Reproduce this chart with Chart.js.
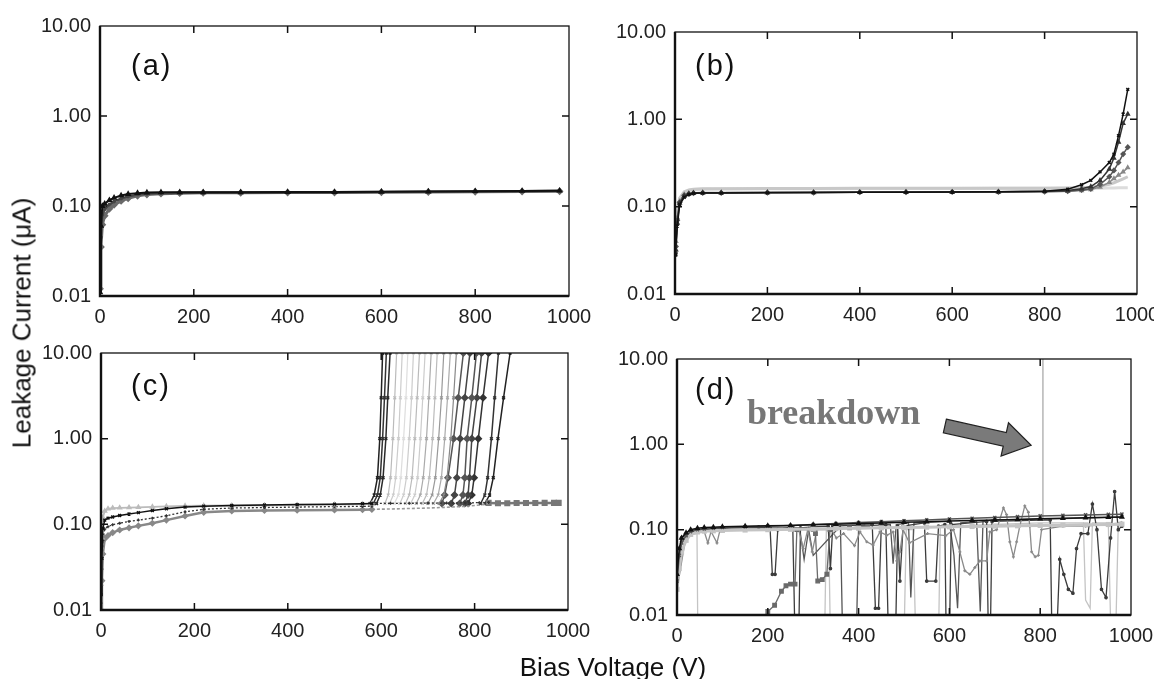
<!DOCTYPE html>
<html>
<head>
<meta charset="utf-8">
<script src="https://cdn.jsdelivr.net/npm/chart.js@4.4.0/dist/chart.umd.min.js"></script>
<style>
  html, body { margin: 0; padding: 0; background: #fff; }
  body { width: 1154px; height: 679px; position: relative; overflow: hidden; font-family: 'Liberation Sans', Arial, sans-serif; }
  .panel { position: absolute; }
  .ytitle { position: absolute; left: 22px; top: 323px; transform: translate(-50%, -50%) rotate(-90deg); font-size: 26px; white-space: nowrap; color: #111; }
  .xtitle { position: absolute; left: 613px; top: 667px; transform: translate(-50%, -50%); font-size: 26px; white-space: nowrap; color: #111; }
</style>
</head>
<body>
<div class="panel" id="panelA"></div>
<div class="panel" id="panelB"></div>
<div class="panel" id="panelC"></div>
<div class="panel" id="panelD"></div>
<div class="ytitle">Leakage Current (μA)</div>
<div class="xtitle">Bias Voltage (V)</div>
<script>
// shared axis ticks
const yTickValues = [0.01, 0.1, 1, 10];
const xTickStep = 200;

// (a) all curves flat
const aVolts = [0, 2, 5, 10, 20, 30, 45, 60, 80, 100, 130, 170, 220, 300, 400, 500, 600, 700, 800, 900, 980];
const aBlack = [0.011, 0.06, 0.1, 0.106, 0.116, 0.123, 0.131, 0.136, 0.139, 0.141, 0.142, 0.142, 0.142, 0.142, 0.143, 0.143, 0.144, 0.145, 0.146, 0.147, 0.148];
const aDark = [0.013, 0.045, 0.08, 0.092, 0.104, 0.112, 0.121, 0.128, 0.134, 0.137, 0.139, 0.14, 0.14, 0.141, 0.141, 0.142, 0.143, 0.144, 0.145, 0.146, 0.147];
const aGray = [0.012, 0.035, 0.062, 0.078, 0.093, 0.103, 0.114, 0.122, 0.13, 0.134, 0.137, 0.139, 0.14, 0.14, 0.141, 0.141, 0.142, 0.143, 0.144, 0.145, 0.146];

// (b) rise near 1000 V
const bVolts = [0, 2, 5, 10, 20, 30, 40, 60, 100, 200, 300, 400, 500, 600, 700, 800, 850, 880, 900, 920, 940, 950, 960, 970, 980];
const bBlack = [0.028, 0.028, 0.06, 0.105, 0.128, 0.138, 0.142, 0.143, 0.143, 0.144, 0.145, 0.146, 0.146, 0.147, 0.148, 0.15, 0.158, 0.178, 0.2, 0.25, 0.32, 0.4, 0.65, 1.15, 2.2];
const bDark = [0.03, 0.032, 0.065, 0.11, 0.132, 0.14, 0.143, 0.144, 0.144, 0.145, 0.145, 0.146, 0.147, 0.147, 0.148, 0.15, 0.153, 0.16, 0.17, 0.2, 0.27, 0.36, 0.55, 0.9, 1.15];
const bMid = [0.03, 0.035, 0.07, 0.112, 0.135, 0.14, 0.143, 0.144, 0.144, 0.145, 0.145, 0.146, 0.146, 0.147, 0.147, 0.148, 0.15, 0.155, 0.16, 0.18, 0.22, 0.26, 0.32, 0.4, 0.48];
const bGray = [0.032, 0.04, 0.075, 0.115, 0.138, 0.142, 0.144, 0.145, 0.145, 0.145, 0.146, 0.146, 0.147, 0.147, 0.148, 0.149, 0.15, 0.153, 0.157, 0.168, 0.19, 0.21, 0.23, 0.25, 0.28];
const bLight = [0.035, 0.05, 0.09, 0.125, 0.148, 0.155, 0.158, 0.16, 0.16, 0.161, 0.161, 0.162, 0.162, 0.162, 0.163, 0.163, 0.164, 0.165, 0.167, 0.172, 0.18, 0.188, 0.197, 0.208, 0.22];
const bPale = [0.033, 0.045, 0.085, 0.12, 0.145, 0.153, 0.157, 0.158, 0.159, 0.16, 0.16, 0.161, 0.161, 0.161, 0.162, 0.162, 0.162, 0.163, 0.163, 0.163, 0.164, 0.164, 0.165, 0.165, 0.165];

// (c) baselines, then breakdown curves
const cBaseVolts = [0, 2, 4, 8, 15, 25, 40, 60, 80, 110, 140, 180, 220, 280, 350, 420, 500, 560, 580];
const cBlack = [0.015, 0.04, 0.09, 0.112, 0.118, 0.122, 0.127, 0.132, 0.137, 0.145, 0.152, 0.159, 0.163, 0.166, 0.168, 0.17, 0.172, 0.174, 0.175];
const cLight = [0.02, 0.07, 0.12, 0.143, 0.152, 0.155, 0.156, 0.157, 0.158, 0.16, 0.162, 0.164, 0.165, 0.166, 0.167, 0.168, 0.17, 0.172, 0.174];
const cDotted = [0.012, 0.03, 0.065, 0.088, 0.094, 0.099, 0.103, 0.108, 0.112, 0.118, 0.126, 0.14, 0.15, 0.155, 0.157, 0.159, 0.161, 0.162, 0.163];
const cLow = [0.01, 0.022, 0.045, 0.068, 0.074, 0.08, 0.086, 0.091, 0.096, 0.103, 0.112, 0.125, 0.138, 0.143, 0.145, 0.146, 0.147, 0.148, 0.149];
const cLateVolts = [580, 620, 660, 700, 740, 780, 810, 830];
const cLateTop = [0.175, 0.176, 0.176, 0.177, 0.177, 0.178, 0.179, 0.18];
const cLateLow = [0.15, 0.151, 0.153, 0.155, 0.158, 0.162, 0.168, 0.175];
const cTailVolts = [830, 850, 870, 890, 910, 930, 950, 970, 980];
const cTail = [0.178, 0.176, 0.176, 0.177, 0.177, 0.177, 0.178, 0.178, 0.178];
// current levels passed by every breakdown curve, and the voltage at each level
const cRiseLevels = [0.175, 0.22, 0.35, 1, 3, 10, 12];
const cRiseVolts = [
  [576, 585, 592, 597, 600, 603, 604],
  [583, 592, 598, 603, 607, 611, 612],
  [590, 598, 604, 610, 614, 619, 620],
  [608, 615, 620, 625, 629, 633, 634],
  [618, 626, 631, 637, 641, 645, 646],
  [628, 637, 642, 648, 653, 657, 658],
  [640, 648, 654, 660, 665, 669, 670],
  [652, 660, 666, 672, 677, 682, 683],
  [663, 672, 678, 684, 689, 694, 695],
  [675, 684, 690, 697, 702, 707, 708],
  [688, 697, 703, 710, 715, 720, 721],
  [700, 709, 716, 723, 729, 734, 735],
  [712, 722, 729, 736, 742, 748, 749],
  [724, 734, 741, 749, 755, 761, 762],
  [730, 736, 743, 755, 765, 776, 778],
  [750, 757, 762, 769, 779, 790, 792],
  [768, 775, 779, 784, 794, 804, 806],
  [779, 786, 789, 794, 805, 815, 817],
  [786, 794, 799, 808, 818, 830, 832],
  [813, 822, 828, 836, 843, 851, 853],
  [822, 832, 840, 850, 862, 876, 878]
];
const cRiseColors = ['#222', '#333', '#2a2a2a', '#bbb', '#ccc', '#ddd', '#ccc', '#bbb', '#ccc', '#aaa', '#bbb', '#999', '#aaa', '#888',
  '#555', '#444', '#555', '#444', '#333', '#333', '#222'];

// (d) noisy curves
const dBandVolts = [0, 5, 10, 20, 30, 45, 60, 80, 100, 150, 200, 250, 300, 350, 400, 450, 500, 550, 600, 650, 700, 750, 800, 850, 900, 950, 980];
const dBlack = [0.03, 0.06, 0.08, 0.092, 0.1, 0.104, 0.106, 0.107, 0.108, 0.11, 0.111, 0.112, 0.114, 0.116, 0.118, 0.12, 0.122, 0.124, 0.126, 0.128, 0.13, 0.132, 0.134, 0.136, 0.138, 0.14, 0.141];
const dUpper = [0.025, 0.05, 0.07, 0.085, 0.095, 0.1, 0.102, 0.104, 0.106, 0.108, 0.11, 0.112, 0.115, 0.118, 0.121, 0.124, 0.127, 0.13, 0.133, 0.136, 0.139, 0.142, 0.145, 0.147, 0.149, 0.151, 0.152];
const dLower = [0.02, 0.035, 0.055, 0.075, 0.088, 0.094, 0.096, 0.097, 0.098, 0.099, 0.1, 0.101, 0.102, 0.103, 0.104, 0.105, 0.106, 0.107, 0.108, 0.109, 0.11, 0.111, 0.112, 0.113, 0.114, 0.115, 0.116];
const dNoise1Volts = [0, 10, 30, 100, 180, 205, 210, 216, 222, 255, 260, 268, 272, 300, 333, 338, 343, 430, 437, 444, 450, 460, 465, 482, 486, 491, 498, 545, 550, 570, 576, 590, 593, 600, 604, 682, 686, 690, 694, 822, 826, 836, 843, 852, 862, 872, 880, 890, 905, 915, 925, 935, 945, 955, 964, 972, 980];
const dNoise1 = [0.03, 0.08, 0.097, 0.105, 0.107, 0.105, 0.03, 0.03, 0.1, 0.108, 0.005, 0.005, 0.105, 0.108, 0.11, 0.035, 0.11, 0.115, 0.012, 0.012, 0.11, 0.115, 0.008, 0.008, 0.11, 0.025, 0.11, 0.12, 0.025, 0.025, 0.11, 0.115, 0.005, 0.005, 0.115, 0.125, 0.005, 0.005, 0.125, 0.13, 0.005, 0.005, 0.045, 0.03, 0.02, 0.018, 0.06, 0.09, 0.09, 0.2, 0.1, 0.02, 0.016, 0.08, 0.28, 0.1, 0.11];
const dNoise2Volts = [0, 20, 60, 68, 75, 88, 95, 200, 268, 278, 288, 298, 308, 340, 351, 367, 391, 403, 418, 432, 447, 462, 476, 484, 491, 498, 512, 552, 592, 609, 623, 634, 645, 656, 667, 682, 689, 704, 719, 726, 733, 741, 748, 755, 766, 774, 777, 781, 789, 796, 803, 850, 900, 980];
const dNoise2 = [0.02, 0.085, 0.095, 0.07, 0.095, 0.07, 0.1, 0.1, 0.1, 0.06, 0.1, 0.055, 0.1, 0.1, 0.08, 0.09, 0.065, 0.094, 0.072, 0.066, 0.094, 0.086, 0.094, 0.043, 0.055, 0.1, 0.07, 0.09, 0.085, 0.1, 0.055, 0.033, 0.03, 0.036, 0.043, 0.043, 0.094, 0.1, 0.18, 0.15, 0.072, 0.048, 0.072, 0.11, 0.19, 0.16, 0.11, 0.055, 0.048, 0.05, 0.1, 0.11, 0.11, 0.12];
const dNoise3Volts = [196, 200, 215, 230, 240, 250, 260, 264, 300, 305, 310, 320, 330, 337, 380, 420];
const dNoise3 = [0.008, 0.011, 0.013, 0.019, 0.022, 0.023, 0.023, 0.1, 0.1, 0.09, 0.025, 0.026, 0.03, 0.1, 0.105, 0.11];
const dNoise4Volts = [0, 15, 30, 44, 46, 325, 329, 334, 338, 500, 505, 520, 526, 576, 580, 600, 700, 800, 895, 900, 910, 915, 950, 956, 966, 972, 980];
const dNoise4 = [0.02, 0.07, 0.09, 0.095, 0.005, 0.005, 0.1, 0.1, 0.005, 0.005, 0.1, 0.1, 0.005, 0.005, 0.11, 0.11, 0.115, 0.12, 0.12, 0.015, 0.012, 0.12, 0.12, 0.005, 0.005, 0.12, 0.125];
const dNoise5Volts = [0, 10, 40, 120, 270, 280, 290, 300, 360, 365, 395, 400, 470, 476, 483, 510, 515, 522, 600, 610, 618, 625, 660, 668, 674, 700, 850, 980];
const dNoise5 = [0.025, 0.07, 0.1, 0.105, 0.105, 0.045, 0.1, 0.05, 0.11, 0.005, 0.005, 0.11, 0.115, 0.04, 0.115, 0.12, 0.016, 0.12, 0.125, 0.05, 0.012, 0.12, 0.125, 0.011, 0.125, 0.13, 0.135, 0.14];
const dBreakVolts = [806, 806];
const dBreakCurrent = [0.13, 10];

const Y_AXIS_W = 78, X_AXIS_H = 40, PAD_TOP = 12, PAD_RIGHT = 32;
const tickFont = { family: "'Liberation Sans', Arial, sans-serif", size: 20 };

function pts(volts, currents) {
  return volts.map((v, i) => ({ x: v, y: currents[i] }));
}

function series(data, color, opts = {}) {
  return {
    data: data,
    borderColor: color,
    backgroundColor: color,
    borderWidth: opts.width || 1.2,
    pointRadius: opts.radius || 0,
    pointStyle: opts.style || 'circle',
    borderDash: opts.dash || [],
    tension: 0
  };
}

// frame with inward ticks, panel letter and the breakdown note
const panelDeco = {
  id: 'panelDeco',
  afterDatasetsDraw(chart, args, opts) {
    const { ctx, chartArea: a, scales: { x, y } } = chart;
    ctx.save();
    ctx.strokeStyle = '#111';
    ctx.lineWidth = 1.3;
    ctx.strokeRect(a.left, a.top, a.right - a.left, a.bottom - a.top);
    ctx.lineWidth = 2.4;
    ctx.beginPath();
    ctx.moveTo(a.left, a.top);
    ctx.lineTo(a.left, a.bottom);
    ctx.lineTo(a.right, a.bottom);
    ctx.stroke();
    ctx.lineWidth = 1.5;
    ctx.beginPath();
    x.ticks.forEach(t => {
      const px = x.getPixelForValue(t.value);
      if (px <= a.left + 1 || px >= a.right - 1) return;
      ctx.moveTo(px, a.bottom); ctx.lineTo(px, a.bottom - 7);
      ctx.moveTo(px, a.top); ctx.lineTo(px, a.top + 7);
    });
    y.ticks.forEach(t => {
      const py = y.getPixelForValue(t.value);
      if (py <= a.top + 1 || py >= a.bottom - 1) return;
      ctx.moveTo(a.left, py); ctx.lineTo(a.left + 7, py);
      ctx.moveTo(a.right, py); ctx.lineTo(a.right - 7, py);
    });
    ctx.stroke();

    ctx.fillStyle = '#111';
    ctx.font = "29px 'Liberation Sans', Arial, sans-serif";
    ctx.letterSpacing = '2px';
    ctx.textBaseline = 'middle';
    ctx.fillText(opts.label, a.left + opts.dx, a.top + opts.dy);
    ctx.letterSpacing = '0px';

    if (opts.note) {
      const n = opts.note;
      ctx.fillStyle = '#777';
      ctx.font = "bold 36px 'Liberation Serif', 'Times New Roman', serif";
      ctx.textBaseline = 'alphabetic';
      ctx.fillText(n.text, x.getPixelForValue(n.at[0]), y.getPixelForValue(n.at[1]));
      const x0 = x.getPixelForValue(n.from[0]), y0 = y.getPixelForValue(n.from[1]);
      const x1 = x.getPixelForValue(n.to[0]), y1 = y.getPixelForValue(n.to[1]);
      const len = Math.hypot(x1 - x0, y1 - y0);
      ctx.translate(x0, y0);
      ctx.rotate(Math.atan2(y1 - y0, x1 - x0));
      ctx.beginPath();
      ctx.moveTo(0, -7); ctx.lineTo(len - 27, -7); ctx.lineTo(len - 27, -17);
      ctx.lineTo(len, 0);
      ctx.lineTo(len - 27, 17); ctx.lineTo(len - 27, 7); ctx.lineTo(0, 7);
      ctx.closePath();
      ctx.fillStyle = '#7a7a7a';
      ctx.fill();
      ctx.strokeStyle = '#222';
      ctx.lineWidth = 1.2;
      ctx.stroke();
    }
    ctx.restore();
  }
};

function makePanel(id, area, datasets, deco) {
  const box = document.getElementById(id);
  box.style.left = (area.left - Y_AXIS_W) + 'px';
  box.style.top = (area.top - PAD_TOP) + 'px';
  box.style.width = (area.right - area.left + Y_AXIS_W + PAD_RIGHT) + 'px';
  box.style.height = (area.bottom - area.top + PAD_TOP + X_AXIS_H) + 'px';
  const canvas = document.createElement('canvas');
  box.appendChild(canvas);
  return new Chart(canvas, {
    type: 'line',
    data: { datasets: datasets },
    options: {
      responsive: true,
      maintainAspectRatio: false,
      animation: false,
      layout: { padding: { top: PAD_TOP, right: PAD_RIGHT, left: 0, bottom: 0 } },
      plugins: { legend: { display: false }, tooltip: { enabled: false }, panelDeco: deco },
      scales: {
        x: {
          type: 'linear', min: 0, max: 1000,
          ticks: { stepSize: xTickStep, callback: v => String(v), font: tickFont, color: '#222', padding: 9, maxRotation: 0 },
          grid: { display: false, drawTicks: false },
          border: { display: false },
          afterFit: s => { s.height = X_AXIS_H; }
        },
        y: {
          type: 'logarithmic', min: 0.01, max: 10,
          afterBuildTicks: s => { s.ticks = yTickValues.map(v => ({ value: v })); },
          ticks: { callback: v => Number(v).toFixed(2), font: tickFont, color: '#222', padding: 9 },
          grid: { display: false, drawTicks: false },
          border: { display: false },
          afterFit: s => { s.width = Y_AXIS_W; }
        }
      }
    },
    plugins: [panelDeco]
  });
}

makePanel('panelA', { left: 100, top: 17, right: 569, bottom: 296 }, [
  series(pts(aVolts, aBlack), '#111', { width: 2, radius: 1.8, style: 'triangle' }),
  series(pts(aVolts, aDark), '#444', { width: 2.2, radius: 1.8, style: 'crossRot' }),
  series(pts(aVolts, aGray), '#6a6a6a', { width: 3, radius: 1.8, style: 'rectRot' })
], { label: '(a)', dx: 31, dy: 41 });

makePanel('panelB', { left: 675, top: 23, right: 1137, bottom: 294 }, [
  series(pts(bVolts, bBlack), '#111', { width: 1.5, radius: 2, style: 'crossRot' }),
  series(pts(bVolts, bDark), '#333', { width: 1.5, radius: 1.8, style: 'triangle' }),
  series(pts(bVolts, bMid), '#555', { width: 1.5, radius: 2, style: 'rectRot' }),
  series(pts(bVolts, bGray), '#888', { width: 1.5, radius: 1.8, style: 'triangle' }),
  series(pts(bVolts, bLight), '#c8c8c8', { width: 3 }),
  series(pts(bVolts, bPale), '#dcdcdc', { width: 3 })
], { label: '(b)', dx: 20, dy: 35 });

const cDatasets = [
  series(pts(cBaseVolts, cBlack), '#111', { width: 1.5, radius: 2, style: 'crossRot' }),
  series(pts(cBaseVolts, cLight), '#bbb', { width: 1.8, radius: 1.8, style: 'triangle' }),
  series(pts(cBaseVolts, cDotted), '#333', { width: 1.3, dash: [2, 2], radius: 1.5, style: 'cross' }),
  series(pts(cBaseVolts, cLow), '#888', { width: 2.5, radius: 1.8, style: 'rectRot' }),
  series(pts(cLateVolts, cLateTop), '#333', { width: 1.3, dash: [2, 2], radius: 1.5, style: 'cross' }),
  series(pts(cLateVolts, cLateLow), '#999', { width: 1.6, dash: [3, 2] }),
  series(pts(cTailVolts, cTail), '#777', { width: 2.5, radius: 2.5, style: 'rect' })
];
cRiseVolts.forEach((volts, i) => {
  const dark = i < 3 || i > 13;
  cDatasets.push(series(pts(volts, cRiseLevels), cRiseColors[i], {
    width: dark ? 1.5 : 1.2,
    radius: i > 13 && i < 19 ? 3 : 2,
    style: i > 13 && i < 19 ? 'rectRot' : 'crossRot'
  }));
});
makePanel('panelC', { left: 101, top: 344, right: 568, bottom: 610 }, cDatasets,
  { label: '(c)', dx: 30, dy: 34 });

makePanel('panelD', { left: 677, top: 350, right: 1131, bottom: 615 }, [
  series(pts(dBandVolts, dBlack), '#111', { width: 1.5, radius: 2, style: 'triangle' }),
  series(pts(dBandVolts, dUpper), '#555', { width: 1.5, radius: 2.2, style: 'crossRot' }),
  series(pts(dBandVolts, dLower), '#c4c4c4', { width: 3, radius: 1.5, style: 'rect' }),
  series(pts(dBreakVolts, dBreakCurrent), '#aaa', { width: 1.3 }),
  series(pts(dNoise3Volts, dNoise3), '#6a6a6a', { width: 1.3, radius: 2.5, style: 'rect' }),
  series(pts(dNoise2Volts, dNoise2), '#8a8a8a', { width: 1.3, radius: 1.5, style: 'cross' }),
  series(pts(dNoise1Volts, dNoise1), '#3c3c3c', { width: 1.3, radius: 1.2, style: 'circle' }),
  series(pts(dNoise5Volts, dNoise5), '#555', { width: 1.3 }),
  series(pts(dNoise4Volts, dNoise4), '#c4c4c4', { width: 1.3 })
], {
  label: '(d)', dx: 18, dy: 32,
  note: { text: 'breakdown', at: [154, 1.73], from: [590, 1.64], to: [780, 0.975] }
});
</script>
</body>
</html>
